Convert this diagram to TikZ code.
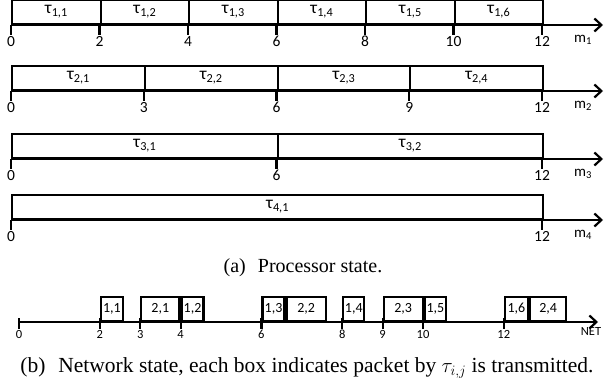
\documentclass[tikz,border=0pt]{standalone}
\usepackage{fontspec}
\setmainfont{Liberation Serif}
\newfontfamily\calfont{Carlito}
\usetikzlibrary{arrows.meta,positioning}

\begin{document}
\begin{tikzpicture}[x=1pt,y=-1pt,
  thickline/.style={line width=2.2pt},
  timeline/.style={thickline,-{Straight Barb[length=7pt,width=13pt,line width=2.2pt]}},
  taskbox/.style={draw,thickline,rectangle,inner sep=0pt,minimum height=24pt,anchor=south west,font=\calfont\fontsize{17.5}{17.5}\selectfont},
  pktbox/.style={draw,thickline,rectangle,inner sep=0pt,minimum height=24pt,font=\calfont\fontsize{14}{14}\selectfont},
  ticklbl/.style={anchor=north,inner sep=1pt,font=\calfont\fontsize{15.5}{15.5}\selectfont},
  mlbl/.style={inner sep=1pt,font=\calfont\fontsize{15}{15}\selectfont},
  netlbl/.style={anchor=north,inner sep=1pt,font=\calfont\fontsize{12.5}{12.5}\selectfont},
  caption/.style={font=\fontsize{20}{24}\selectfont}]
\useasboundingbox (0,0) rectangle (604,387);

\foreach \r/\ya/\tasks in {1/25/{1/0/2,2/2/4,3/4/6,4/6/8,5/8/10,6/10/12},
                          2/91/{1/0/3,2/3/6,3/6/9,4/9/12},
                          3/159/{1/0/6,2/6/12},
                          4/220/{1/0/12}}{
  \coordinate (o\r) at (11,\ya);
  \coordinate (e\r) at (603,\ya);
  \foreach \j/\a/\b in \tasks {
    \pgfmathsetmacro\w{(\b-\a)*44.25}
    \node[taskbox,minimum width=\w pt] (t\r\j) at ({11+\a*44.25},\ya) {τ\textsubscript{\r,\j}};
    \coordinate (c\r-\a) at ({11+\a*44.25},\ya);
    \node[ticklbl] (l\r-\a) at ({11+\a*44.25},\ya+10) {\a};
    \draw[thickline] (c\r-\a) -- (l\r-\a.north);
  }
  \coordinate (c\r-12) at (542,\ya);
  \node[ticklbl] (l\r-12) at (542,\ya+10) {12};
  \draw[thickline] (c\r-12) -- (l\r-12.north);
  \draw[timeline] (o\r) -- (e\r);
  \node[mlbl] (m\r) at (583,\ya+15) {m\textsubscript{\r}};
}

\node[caption] (capa) at (303,268) {(a)\hspace{0.6em}Processor state.};

\coordinate (no) at (19,322);
\coordinate (ne) at (598,322);
\node[pktbox,anchor=south west,minimum width=22pt] (p11) at ({19+2*40.4},322) {1,1};
\node[pktbox,anchor=south west,minimum width=38pt] (p21) at ({19+3*40.4},322) {2,1};
\node[pktbox,minimum width=22pt,right=0pt of p21] (p12) {1,2};
\node[pktbox,anchor=south west,minimum width=22pt] (p13) at ({19+6*40.4},322) {1,3};
\node[pktbox,minimum width=39pt,right=0pt of p13] (p22) {2,2};
\node[pktbox,anchor=south west,minimum width=21pt] (p14) at ({19+8*40.4},322) {1,4};
\node[pktbox,anchor=south west,minimum width=39pt] (p23) at ({19+9*40.4},322) {2,3};
\node[pktbox,minimum width=21pt,right=0pt of p23] (p15) {1,5};
\node[pktbox,anchor=south west,minimum width=23pt] (p16) at ({19+12*40.4},322) {1,6};
\node[pktbox,minimum width=36pt,right=0pt of p16] (p24) {2,4};
\foreach \c in {0,2,3,4,6,8,9,10,12}{
  \coordinate (nc-\c) at ({19+\c*40.4},318);
  \node[netlbl] (nl-\c) at ({19+\c*40.4},329) {\c};
  \draw[thickline] (nc-\c) -- (nl-\c.north);
}
\draw[timeline] (no) -- (ne);
\node[netlbl] (net) at (591,326) {NET};

\node[caption,font=\fontsize{21.5}{25}\selectfont] (capb) at (307,368) {(b)\hspace{0.6em}Network state, each box indicates packet by $\tau_{i,j}$ is transmitted.};
\end{tikzpicture}
\end{document}
